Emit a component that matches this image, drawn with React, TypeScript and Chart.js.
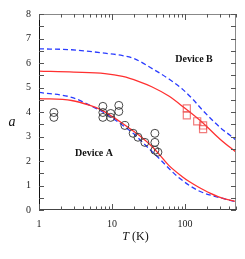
import React, { useEffect, useRef } from "react";
import { Chart, registerables } from "chart.js";

Chart.register(...registerables);

// Device A experimental points (circles)
const T_CIRCLES = [1.6, 1.6, 7.5, 7.5, 7.5, 9.6, 9.6, 12.4, 12.4, 15, 19.5, 22.7, 28.2, 38.7, 38.7, 38.7, 42.6];
const A_CIRCLES = [3.98, 3.78, 4.23, 3.98, 3.78, 3.94, 3.78, 4.27, 4.02, 3.45, 3.13, 2.97, 2.76, 3.13, 2.76, 2.44, 2.36];

// Device B experimental points (squares)
const T_SQUARES = [106, 106, 147, 177, 177];
const A_SQUARES = [4.15, 3.86, 3.62, 3.45, 3.3];

// Device B curves
const T_RED_B = [1, 3, 8, 14, 23, 35, 60, 100, 150, 200, 300, 500];
const A_RED_B = [5.67, 5.63, 5.57, 5.45, 5.25, 5.03, 4.65, 4.15, 3.73, 3.4, 2.9, 2.36];
const T_BLUE_B = [1, 2.8, 8, 14, 20, 39, 60, 91, 130, 171, 250, 322, 415, 500];
const A_BLUE_B = [6.58, 6.54, 6.4, 6.3, 6.18, 5.7, 5.35, 4.95, 4.5, 4.1, 3.6, 3.3, 3.05, 2.85];

// Device A curves
const T_RED_A = [1, 2.8, 5, 7, 10, 14, 18, 24, 35, 45, 60, 90, 117, 150, 220, 350, 500];
const A_RED_A = [4.55, 4.47, 4.27, 4.1, 3.82, 3.53, 3.3, 3.03, 2.6, 2.25, 1.82, 1.38, 1.14, 0.95, 0.69, 0.45, 0.35];
const T_BLUE_A = [1, 2.8, 5.3, 8, 12, 19.5, 26.5, 35, 48, 65, 80, 150, 320, 500];
const A_BLUE_A = [4.8, 4.6, 4.23, 3.95, 3.6, 3.13, 2.75, 2.4, 2.0, 1.6, 1.35, 0.8, 0.48, 0.33];

const X_LABELS = [1, 10, 100];
const Y_TICKS = [0, 0.5, 1, 1.5, 2, 2.5, 3, 3.5, 4, 4.5, 5, 5.5, 6, 6.5, 7, 7.5, 8];
const X_TICKS = [1, 2, 3, 4, 5, 6, 7, 8, 9, 10, 20, 30, 40, 50, 60, 70, 80, 90, 100, 200, 300, 400, 500];

const zip = (xs: number[], ys: number[]) => xs.map((x, i) => ({ x, y: ys[i] }));

const SERIF = "'Liberation Serif', 'DejaVu Serif', serif";

const framePlugin = {
  id: "frame",
  afterDraw(chart: any) {
    const { ctx, chartArea: a, scales } = chart;
    const xs = scales.x;
    const ys = scales.y;
    ctx.save();
    ctx.lineWidth = 1;
    ctx.strokeStyle = "#888";
    ctx.beginPath();
    ctx.moveTo(a.left, a.top + 0.5);
    ctx.lineTo(a.right, a.top + 0.5);
    ctx.moveTo(a.right - 0.5, a.top);
    ctx.lineTo(a.right - 0.5, a.bottom);
    ctx.stroke();
    ctx.strokeStyle = "#444";
    ctx.beginPath();
    ctx.moveTo(a.left, a.bottom - 0.5);
    ctx.lineTo(a.right, a.bottom - 0.5);
    ctx.stroke();
    ctx.strokeStyle = "#111";
    ctx.beginPath();
    ctx.moveTo(a.left + 0.5, a.top);
    ctx.lineTo(a.left + 0.5, a.bottom);
    ctx.stroke();
    ctx.strokeStyle = "#555";
    ctx.beginPath();
    X_TICKS.forEach((t) => {
      const px = Math.round(xs.getPixelForValue(t)) + 0.5;
      const major = X_LABELS.includes(t);
      const len = major ? 6 : 3.5;
      ctx.moveTo(px, a.bottom);
      ctx.lineTo(px, a.bottom - len);
      ctx.moveTo(px, a.top);
      ctx.lineTo(px, a.top + len);
    });
    ctx.stroke();
    ctx.beginPath();
    Y_TICKS.forEach((v) => {
      const py = Math.round(ys.getPixelForValue(v)) + 0.5;
      ctx.moveTo(a.left, py);
      ctx.lineTo(a.left + 5, py);
      ctx.moveTo(a.right, py);
      ctx.lineTo(a.right - 5, py);
    });
    ctx.stroke();
    ctx.fillStyle = "#111";
    ctx.font = `bold 10px ${SERIF}`;
    ctx.textAlign = "center";
    ctx.textBaseline = "middle";
    ctx.fillText("Device A", xs.getPixelForValue(5.67), ys.getPixelForValue(2.32));
    ctx.fillText("Device B", xs.getPixelForValue(133), ys.getPixelForValue(6.14));
    ctx.font = `italic 14px ${SERIF}`;
    ctx.fillText("a", 12, (a.top + a.bottom) / 2 + 10);
    const cx = (a.left + a.right) / 2 - 2;
    const ty = a.bottom + 27;
    ctx.font = `italic 12px ${SERIF}`;
    const wT = ctx.measureText("T").width;
    ctx.font = `12px ${SERIF}`;
    const wK = ctx.measureText(" (K)").width;
    const start = cx - (wT + wK) / 2;
    ctx.textAlign = "left";
    ctx.font = `italic 12px ${SERIF}`;
    ctx.fillText("T", start, ty);
    ctx.font = `12px ${SERIF}`;
    ctx.fillText(" (K)", start + wT, ty);
    ctx.restore();
  },
};

export default function App() {
  const ref = useRef<HTMLCanvasElement | null>(null);
  useEffect(() => {
    document.body.style.margin = "0";
    const canvas = ref.current!;
    const lineDs = (label: string, xs: number[], ys: number[], color: string, dash: number[]) => ({
      type: "line" as const,
      label,
      data: zip(xs, ys),
      borderColor: color,
      borderWidth: 1.3,
      borderDash: dash,
      pointRadius: 0,
      fill: false,
      tension: 0.4,
      cubicInterpolationMode: "monotone" as const,
    });
    const chart = new Chart(canvas, {
      type: "scatter",
      data: {
        datasets: [
          {
            label: "Device A data",
            data: zip(T_CIRCLES, A_CIRCLES),
            pointStyle: "circle",
            pointRadius: 4,
            borderColor: "#333",
            borderWidth: 0.9,
            backgroundColor: "rgba(0,0,0,0)",
          },
          {
            label: "Device B data",
            data: zip(T_SQUARES, A_SQUARES),
            pointStyle: "rect",
            pointRadius: 5,
            borderColor: "rgba(235,70,70,0.7)",
            borderWidth: 1.2,
            backgroundColor: "rgba(0,0,0,0)",
          },
          lineDs("Device A fit", T_RED_A, A_RED_A, "#ff3030", []),
          lineDs("Device A model", T_BLUE_A, A_BLUE_A, "#2a3cff", [5, 3]),
          lineDs("Device B fit", T_RED_B, A_RED_B, "#ff3030", []),
          lineDs("Device B model", T_BLUE_B, A_BLUE_B, "#2a3cff", [5, 3]),
        ] as any,
      },
      options: {
        responsive: false,
        animation: false,
        layout: { padding: { top: 13, right: 9, left: 0, bottom: 0 } },
        plugins: { legend: { display: false }, tooltip: { enabled: false } },
        scales: {
          x: {
            type: "logarithmic",
            min: 1,
            max: 500,
            grid: { display: false, drawTicks: false },
            border: { display: false },
            afterFit: (s: any) => {
              s.height = 49;
            },
            ticks: {
              autoSkip: false,
              maxRotation: 0,
              padding: 8,
              color: "#222",
              font: { family: SERIF, size: 10 },
              callback: (v: any) => (X_LABELS.includes(Number(v)) ? String(v) : ""),
            },
          },
          y: {
            type: "linear",
            min: 0,
            max: 8,
            grid: { display: false, drawTicks: false },
            border: { display: false },
            afterFit: (s: any) => {
              s.width = 39;
            },
            ticks: {
              stepSize: 1,
              padding: 8,
              color: "#222",
              font: { family: SERIF, size: 10 },
            },
          },
        },
      },
      plugins: [framePlugin],
    });
    return () => chart.destroy();
  }, []);
  return (
    <div style={{ position: "absolute", left: 0, top: 0, width: 245, height: 259 }}>
      <canvas ref={ref} width={245} height={259} />
    </div>
  );
}
